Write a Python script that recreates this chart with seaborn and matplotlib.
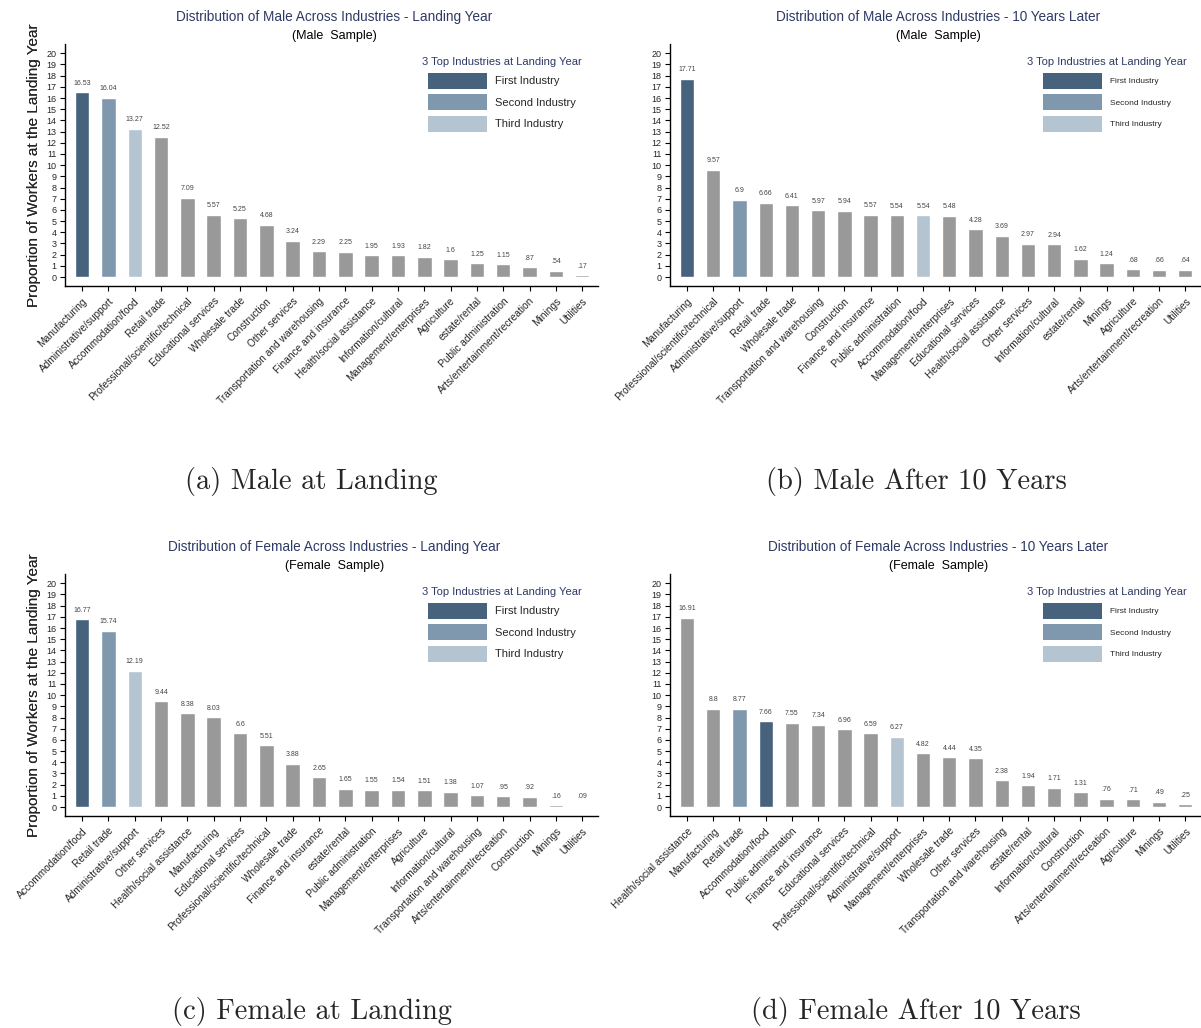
import pandas as pd
import matplotlib.pyplot as plt
from matplotlib.patches import Patch
import seaborn as sns

##### 1. data #####
### (a) male, landing year
male_land_ind = ['Manufacturing', 'Administrative/support', 'Accommodation/food', 'Retail trade',
                 'Professional/scientific/technical', 'Educational services', 'Wholesale trade',
                 'Construction', 'Other services', 'Transportation and warehousing',
                 'Finance and insurance', 'Health/social assistance', 'Information/cultural',
                 'Management/enterprises', 'Agriculture', 'estate/rental', 'Public administration',
                 'Arts/entertainment/recreation', 'Minings', 'Utilities']
male_land_val = [16.53, 16.04, 13.27, 12.52, 7.09, 5.57, 5.25, 4.68, 3.24, 2.29,
                 2.25, 1.95, 1.93, 1.82, 1.6, 1.25, 1.15, 0.87, 0.54, 0.17]

### (b) male, 10 years later
male_10y_ind = ['Manufacturing', 'Professional/scientific/technical', 'Administrative/support',
                'Retail trade', 'Wholesale trade', 'Transportation and warehousing', 'Construction',
                'Finance and insurance', 'Public administration', 'Accommodation/food',
                'Management/enterprises', 'Educational services', 'Health/social assistance',
                'Other services', 'Information/cultural', 'estate/rental', 'Minings', 'Agriculture',
                'Arts/entertainment/recreation', 'Utilities']
male_10y_val = [17.71, 9.57, 6.9, 6.66, 6.41, 5.97, 5.94, 5.57, 5.54, 5.54,
                5.48, 4.28, 3.69, 2.97, 2.94, 1.62, 1.24, 0.68, 0.66, 0.64]

### (c) female, landing year
female_land_ind = ['Accommodation/food', 'Retail trade', 'Administrative/support', 'Other services',
                   'Health/social assistance', 'Manufacturing', 'Educational services',
                   'Professional/scientific/technical', 'Wholesale trade', 'Finance and insurance',
                   'estate/rental', 'Public administration', 'Management/enterprises', 'Agriculture',
                   'Information/cultural', 'Transportation and warehousing',
                   'Arts/entertainment/recreation', 'Construction', 'Minings', 'Utilities']
female_land_val = [16.77, 15.74, 12.19, 9.44, 8.38, 8.03, 6.6, 5.51, 3.88, 2.65,
                   1.65, 1.55, 1.54, 1.51, 1.38, 1.07, 0.95, 0.92, 0.16, 0.09]

### (d) female, 10 years later
female_10y_ind = ['Health/social assistance', 'Manufacturing', 'Retail trade', 'Accommodation/food',
                  'Public administration', 'Finance and insurance', 'Educational services',
                  'Professional/scientific/technical', 'Administrative/support',
                  'Management/enterprises', 'Wholesale trade', 'Other services',
                  'Transportation and warehousing', 'estate/rental', 'Information/cultural',
                  'Construction', 'Arts/entertainment/recreation', 'Agriculture', 'Minings',
                  'Utilities']
female_10y_val = [16.91, 8.8, 8.77, 7.66, 7.55, 7.34, 6.96, 6.59, 6.27, 4.82,
                  4.44, 4.35, 2.38, 1.94, 1.71, 1.31, 0.76, 0.71, 0.49, 0.25]

# top 3 industries at landing year
male_top3 = ['Manufacturing', 'Administrative/support', 'Accommodation/food']
female_top3 = ['Accommodation/food', 'Retail trade', 'Administrative/support']
top_labels = ['First Industry', 'Second Industry', 'Third Industry']

top_colors = ['#46627c', '#8098ae', '#b4c4d1']
other_color = '#999999'
title_color = '#2e3a66'

##### 2. figure #####
W, H = 1201, 1028
sns.set_style('white')
plt.rcParams['font.family'] = ['Liberation Sans', 'DejaVu Sans']

fig = plt.figure(figsize=(W / 100, H / 100), dpi=100)


def fmt(v):
    # Stata style: no leading zero
    s = f'{v:g}'
    if s.startswith('0.'):
        s = s[1:]
    return s


def draw_panel(ind, val, top3, sex, when, caption, left, right, yoff, leg_fs, leg_x, cap_x):
    top, bottom = yoff + 44, yoff + 286
    ax = fig.add_axes([left / W, 1 - bottom / H, (right - left) / W, (bottom - top) / H])

    df = pd.DataFrame({'industry': ind, 'share': val})
    pal = {k: other_color for k in ind}
    for k, c in zip(top3, top_colors):
        pal[k] = c

    sns.barplot(data=df, x='industry', y='share', hue='industry', palette=pal, order=ind,
                hue_order=ind, width=0.55, dodge=False, legend=False, saturation=1,
                errorbar=None, ax=ax)

    for cont, v in zip(ax.containers, val):
        ax.bar_label(cont, labels=[fmt(v)], padding=4, fontsize=5, color='#444444')

    ax.set_xlim(-0.65, 19.6)
    ax.set_ylim(-0.8, 20.83)
    ax.set_yticks(range(0, 21))
    ax.set_xticks(range(len(ind)))
    ax.set_xticklabels(ind, rotation=45, ha='right', rotation_mode='anchor', fontsize=7.3)
    ax.tick_params(axis='y', labelsize=6.5, pad=2.5)
    ax.tick_params(axis='both', direction='out', length=3.6, width=0.8, color='black',
                   bottom=True, left=True)
    ax.set_xlabel('')
    ax.set_ylabel('Proportion of Workers at the Landing Year', fontsize=11)
    ax.yaxis.set_label_coords((41 - left) / (right - left), 0.5)
    sns.despine(ax=ax)
    for s in ['left', 'bottom']:
        ax.spines[s].set_color('black')
        ax.spines[s].set_linewidth(1.0)

    # titles
    cx = (left + right) / 2 + 3
    fig.text(cx / W, 1 - (yoff + 17) / H, f'Distribution of {sex} Across Industries - {when}',
             ha='center', va='center', fontsize=9.8, color=title_color)
    fig.text(cx / W, 1 - (yoff + 35.5) / H, f'({sex}  Sample)', ha='center', va='center',
             fontsize=9, color='black')

    # legend
    fs_px = leg_fs * 100 / 72
    hh = (15.7 / fs_px - 0.245) / 0.65
    handles = [Patch(facecolor=c, edgecolor='none', label=l) for c, l in zip(top_colors, top_labels)]
    leg = ax.legend(handles=handles, title='3 Top Industries at Landing Year', loc='upper left',
                    bbox_to_anchor=(leg_x / W, 1 - (yoff + 57) / H), bbox_transform=fig.transFigure,
                    frameon=False, fontsize=leg_fs, title_fontsize=8,
                    handlelength=59 / fs_px, handleheight=hh, labelspacing=5.8 / fs_px,
                    handletextpad=8 / fs_px, borderpad=0, borderaxespad=0)
    leg.get_title().set_color(title_color)

    # caption
    fig.text(cap_x / W, 1 - (yoff + 481) / H, caption, ha='center', va='center',
             fontsize=20.5, family='cmr10')


draw_panel(male_land_ind, male_land_val, male_top3, 'Male', 'Landing Year',
           '(a) Male at Landing', 65, 598, 0, 8, 422, 311)
draw_panel(male_10y_ind, male_10y_val, male_top3, 'Male', '10 Years Later',
           '(b) Male After 10 Years', 670, 1201, 0, 6, 1027, 916)
draw_panel(female_land_ind, female_land_val, female_top3, 'Female', 'Landing Year',
           '(c) Female at Landing', 65, 598, 530, 8, 422, 312)
draw_panel(female_10y_ind, female_10y_val, female_top3, 'Female', '10 Years Later',
           '(d) Female After 10 Years', 670, 1201, 530, 6, 1027, 916)

fig.savefig('out.png', dpi=100)
